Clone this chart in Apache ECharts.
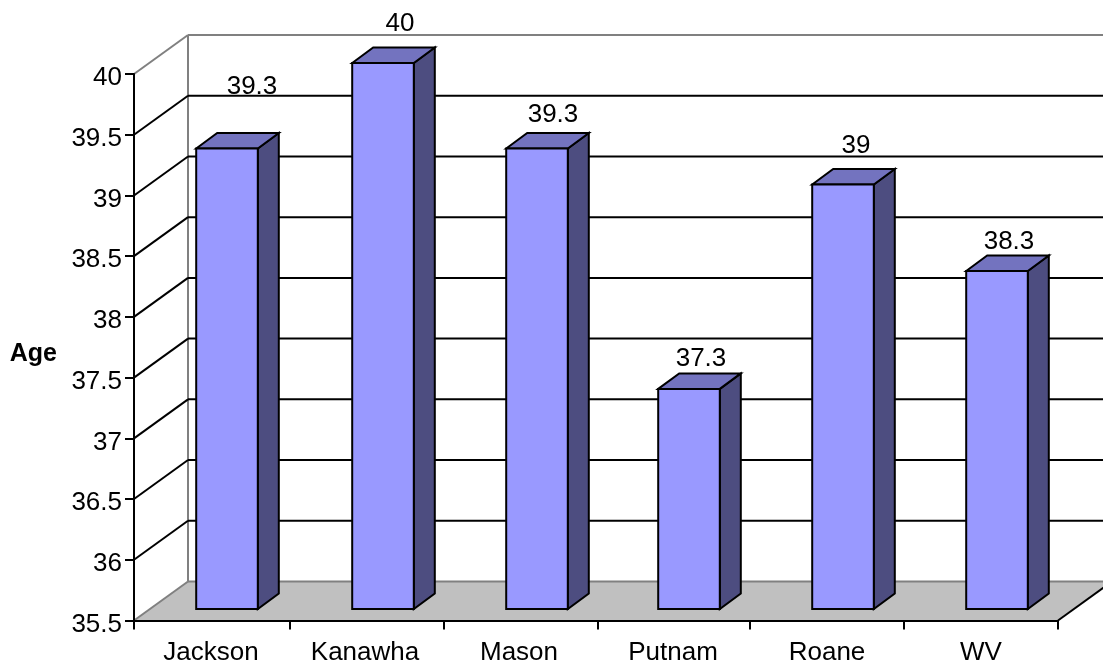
<!DOCTYPE html>
<html><head><meta charset="utf-8">
<style>html,body{margin:0;padding:0;background:#fff}#c{width:1103px;height:668px}</style>
<script src="https://cdn.jsdelivr.net/npm/echarts@6/dist/echarts.min.js"></script>
</head><body><div id="c"></div>
<script>
const categories = ['Jackson','Kanawha','Mason','Putnam','Roane','WV'];
const ages = [39.3,40,39.3,37.3,39,38.3];
const gridTicks = [35.5,36,36.5,37,37.5,38,38.5,39,39.5,40];

// oblique projection of the pseudo-3D box, in pixels
const DEPTH = {dx:54, dy:-39};
const BAR_FRONT = {dx:16, dy:-11.5};
const BAR_DEPTH = {dx:21, dy:-15.5};
const BAR_SHARE = 0.4;
// pixel-rounding quirks of the original renderer
const BAR_NUDGE = [[0,1],[2,0.5],[2,1],[0,-1.5],[0,0.5],[0,2]];
const LABEL_NUDGE = [[25,-46.5],[17,-24],[16,-18],[12,-15],[13,-23],[12,-14]];
const TICK_NUDGE = [0,2,2,2,0,0,0];
const FONT = 'Liberation Sans, Arial, sans-serif';

function wallItem(params, api){
  const v = api.value(0), cs = params.coordSys;
  const y = api.coord([0,v])[1];
  const x0 = cs.x, x1 = cs.x+cs.width;
  const bx = x0+DEPTH.dx, by = y+DEPTH.dy;
  const isBottom = v===gridTicks[0], isTop = v===gridTicks[gridTicks.length-1];
  const grey = '#808080';
  const kids = [];
  if(isBottom){
    kids.push({type:'polygon',shape:{points:[[x0,y],[x1,y],[x1+DEPTH.dx,by],[bx,by]]},style:{fill:'#C0C0C0',stroke:null}});
    kids.push({type:'line',shape:{x1:bx,y1:by,x2:x1+DEPTH.dx,y2:by},style:{stroke:grey,lineWidth:2}});
    kids.push({type:'line',shape:{x1:x1,y1:y,x2:x1+DEPTH.dx,y2:by},style:{stroke:'#000',lineWidth:2}});
    const topY = api.coord([0,gridTicks[gridTicks.length-1]])[1]+DEPTH.dy;
    kids.push({type:'line',shape:{x1:bx,y1:topY,x2:bx,y2:by},style:{stroke:grey,lineWidth:2}});
  } else {
    kids.push({type:'line',shape:{x1:bx,y1:by,x2:x1+DEPTH.dx,y2:by},style:{stroke:isTop?grey:'#000',lineWidth:2}});
  }
  kids.push({type:'line',shape:{x1:x0,y1:y,x2:bx,y2:by},style:{stroke:(isBottom||isTop)?grey:'#000',lineWidth:2}});
  return {type:'group',children:kids};
}

function barItem(params, api){
  const i = api.value(0), v = api.value(1);
  const w = api.size([1,0])[0]*BAR_SHARE;
  const top = api.coord([i,v]), base = api.coord([i,gridTicks[0]]);
  const nb = BAR_NUDGE[i];
  const cx = top[0]+BAR_FRONT.dx+nb[0], xl = cx-w/2, xr = cx+w/2;
  const yt = top[1]+BAR_FRONT.dy+nb[1], yb = base[1]+BAR_FRONT.dy;
  const dx = BAR_DEPTH.dx, dy = BAR_DEPTH.dy;
  const edge = {stroke:'#000',lineWidth:2,lineJoin:'miter'};
  const n = LABEL_NUDGE[i];
  return {type:'group',children:[
    {type:'polygon',shape:{points:[[xr,yt],[xr+dx,yt+dy],[xr+dx,yb+dy],[xr,yb]]},style:{fill:'#4D4D80',...edge}},
    {type:'polygon',shape:{points:[[xl,yt],[xl+dx,yt+dy],[xr+dx,yt+dy],[xr,yt]]},style:{fill:'#7373BF',...edge}},
    {type:'rect',shape:{x:xl,y:yt,width:w,height:yb-yt},style:{fill:'#9999FF',...edge}},
    {type:'text',x:cx+n[0],y:yt+dy+n[1],style:{text:String(v),fill:'#000',font:'26px '+FONT,textAlign:'center',textVerticalAlign:'middle'}}
  ]};
}

function tickItem(params, api){
  const i = api.value(0), band = api.size([1,0])[0];
  const c = api.coord([0,gridTicks[0]]);
  const x = c[0]-band/2+band*i+TICK_NUDGE[i];
  return {type:'line',shape:{x1:x,y1:c[1],x2:x,y2:c[1]+9},style:{stroke:'#000',lineWidth:2}};
}

const chart = echarts.init(document.getElementById('c'),null,{renderer:'canvas'});
chart.setOption({
  animation:false,
  backgroundColor:'#fff',
  grid:{left:134,top:74,width:924,height:546.5,containLabel:false},
  xAxis:{type:'category',data:categories,z:10,
    axisLine:{lineStyle:{color:'#000',width:2}},
    axisTick:{show:false},
    axisLabel:{color:'#000',fontFamily:FONT,fontSize:26,margin:19},
    splitLine:{show:false}},
  yAxis:{type:'value',min:gridTicks[0],max:gridTicks[gridTicks.length-1],interval:0.5,z:10,
    name:'{a|Age}',nameLocation:'middle',nameRotate:0,nameGap:77,
    nameTextStyle:{rich:{a:{color:'#000',fontFamily:FONT,fontSize:25,fontWeight:'bold',padding:[14,0,0,0]}}},
    axisLine:{show:true,lineStyle:{color:'#000',width:2}},
    axisTick:{show:true,length:9,lineStyle:{color:'#000',width:2}},
    axisLabel:{formatter:'{a|{value}}',margin:12,
      rich:{a:{color:'#000',fontFamily:FONT,fontSize:26,padding:[8,0,0,0]}}},
    splitLine:{show:false}},
  series:[
    {type:'custom',clip:false,silent:true,z:1,renderItem:wallItem,data:gridTicks.map(v=>[v]),encode:{x:-1,y:0}},
    {type:'custom',clip:false,silent:true,z:2,renderItem:barItem,data:ages.map((v,i)=>[i,v]),encode:{x:0,y:1}},
    {type:'custom',clip:false,silent:true,z:3,renderItem:tickItem,data:TICK_NUDGE.map((_,i)=>[i]),encode:{x:0}}
  ]
});
</script></body></html>
